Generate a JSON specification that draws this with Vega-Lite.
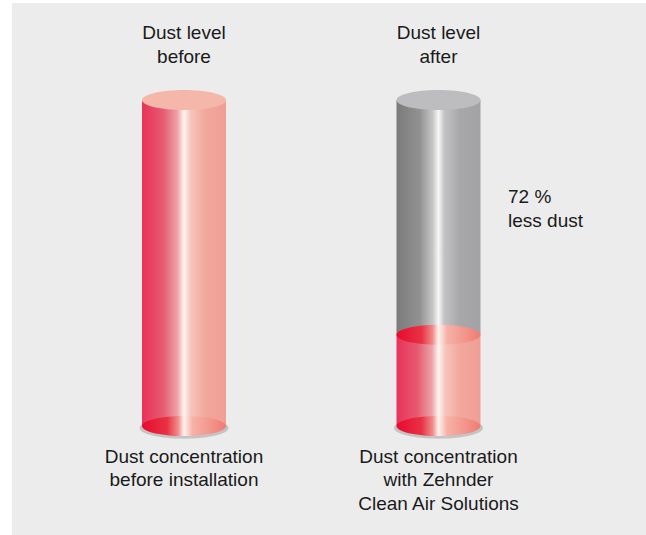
{
  "$schema": "https://vega.github.io/schema/vega-lite/v6.json",
  "width": 634,
  "height": 532,
  "autosize": {"type": "none"},
  "padding": {"left": 12, "top": 3, "right": 0, "bottom": 0},
  "background": "#ffffff",
  "config": {"view": {"fill": "#ececec", "stroke": null}},
  "data": {
    "values": [
      {"level": "before", "dust": 100, "total": 100, "top": "Dust level\nbefore", "bottom": "Dust concentration\nbefore installation"},
      {"level": "after", "dust": 28, "total": 100, "top": "Dust level\nafter", "bottom": "Dust concentration\nwith Zehnder\nClean Air Solutions", "note": "72 %\nless dust"}
    ]
  },
  "encoding": {
    "x": {"field": "level", "type": "nominal", "scale": {"type": "point", "domain": ["before", "after"], "range": [172, 426.5], "padding": 0}, "axis": null}
  },
  "layer": [
    {
      "mark": {"type": "point", "shape": "M -1 0 A 1 0.24 0 1 0 1 0 A 1 0.24 0 1 0 -1 0 Z", "size": 7921, "filled": true, "fill": "#7a7a7a", "opacity": 0.35, "stroke": null, "yOffset": 2},
      "encoding": {"y": {"datum": 0, "type": "quantitative", "scale": {"domain": [-33.436, 129.755], "nice": false, "zero": false}, "axis": null}}
    },
    {
      "mark": {"type": "bar", "size": 84, "stroke": null,
        "fill": {"gradient": "linear", "x1": 0, "y1": 0, "x2": 1, "y2": 0, "stops": [
          {"offset": 0, "color": "#7b7b7b"}, {"offset": 0.28, "color": "#929292"}, {"offset": 0.43, "color": "#c6c6c6"},
          {"offset": 0.5, "color": "#f7f7f7"}, {"offset": 0.57, "color": "#c2c2c4"}, {"offset": 0.75, "color": "#a8a8aa"}, {"offset": 1, "color": "#a2a2a4"}]}},
      "encoding": {"y": {"field": "total", "type": "quantitative"}, "y2": {"field": "dust"}}
    },
    {
      "transform": [{"filter": "datum.dust < datum.total"}],
      "mark": {"type": "point", "shape": "M -1 0 A 1 0.24 0 1 0 1 0 A 1 0.24 0 1 0 -1 0 Z", "size": 7056, "filled": true, "fill": "#bdbcbe", "opacity": 1, "stroke": null},
      "encoding": {"y": {"field": "total", "type": "quantitative"}}
    },
    {
      "mark": {"type": "bar", "size": 84, "stroke": null,
        "fill": {"gradient": "linear", "x1": 0, "y1": 0, "x2": 1, "y2": 0, "stops": [
          {"offset": 0, "color": "#e8325a"}, {"offset": 0.25, "color": "#e65a70"}, {"offset": 0.42, "color": "#eea2a6"},
          {"offset": 0.5, "color": "#fdf4f1"}, {"offset": 0.58, "color": "#f6c5bc"}, {"offset": 0.75, "color": "#f2a89d"}, {"offset": 1, "color": "#f09e94"}]}},
      "encoding": {"y": {"field": "dust", "type": "quantitative"}, "y2": {"datum": 0}}
    },
    {
      "mark": {"type": "point", "shape": "M -1 0 A 1 0.24 0 1 0 1 0 A 1 0.24 0 1 0 -1 0 Z", "size": 7056, "filled": true, "opacity": 1, "stroke": null,
        "fill": {"gradient": "linear", "x1": 0, "y1": 0, "x2": 1, "y2": 0, "stops": [
          {"offset": 0, "color": "#e80a2e"}, {"offset": 0.3, "color": "#e93244"}, {"offset": 0.43, "color": "#f08c8c"},
          {"offset": 0.5, "color": "#fff2ee"}, {"offset": 0.6, "color": "#f6b2a8"}, {"offset": 1, "color": "#f17b72"}]}},
      "encoding": {"y": {"datum": 0, "type": "quantitative"}}
    },
    {
      "transform": [{"filter": "datum.dust < datum.total"}],
      "mark": {"type": "point", "shape": "M -1 0 A 1 0.24 0 1 0 1 0 A 1 0.24 0 1 0 -1 0 Z", "size": 7056, "filled": true, "opacity": 1, "stroke": null,
        "fill": {"gradient": "linear", "x1": 0, "y1": 0, "x2": 1, "y2": 0, "stops": [
          {"offset": 0, "color": "#e80a2e"}, {"offset": 0.3, "color": "#e93244"}, {"offset": 0.43, "color": "#f08c8c"},
          {"offset": 0.5, "color": "#fff2ee"}, {"offset": 0.6, "color": "#f6b2a8"}, {"offset": 1, "color": "#f17b72"}]}},
      "encoding": {"y": {"field": "dust", "type": "quantitative"}}
    },
    {
      "transform": [{"filter": "datum.dust >= datum.total"}],
      "mark": {"type": "point", "shape": "M -1 0 A 1 0.24 0 1 0 1 0 A 1 0.24 0 1 0 -1 0 Z", "size": 7056, "filled": true, "fill": "#f6b7ab", "opacity": 1, "stroke": null},
      "encoding": {"y": {"field": "dust", "type": "quantitative"}}
    },
    {
      "mark": {"type": "text", "font": "Liberation Sans", "fontSize": 19, "color": "#1a1a1a", "align": "center", "baseline": "alphabetic", "lineBreak": "\n", "lineHeight": 24, "dy": -61},
      "encoding": {"y": {"datum": 100, "type": "quantitative"}, "text": {"field": "top", "type": "nominal"}}
    },
    {
      "mark": {"type": "text", "font": "Liberation Sans", "fontSize": 19, "color": "#1a1a1a", "align": "center", "baseline": "alphabetic", "lineBreak": "\n", "lineHeight": 23.5, "dy": 37},
      "encoding": {"y": {"datum": 0, "type": "quantitative"}, "text": {"field": "bottom", "type": "nominal"}}
    },
    {
      "transform": [{"filter": "isValid(datum.note)"}],
      "mark": {"type": "text", "font": "Liberation Sans", "fontSize": 19, "color": "#1a1a1a", "align": "left", "baseline": "alphabetic", "lineBreak": "\n", "lineHeight": 24, "dx": 69.5, "dy": -14.4},
      "encoding": {"y": {"datum": 64, "type": "quantitative"}, "text": {"field": "note", "type": "nominal"}}
    }
  ]
}
